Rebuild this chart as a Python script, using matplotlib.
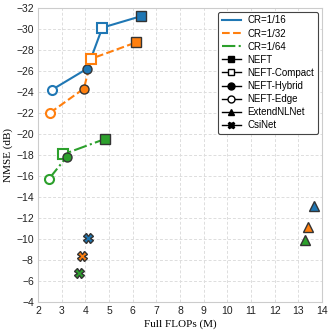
import matplotlib
matplotlib.use("Agg")
import matplotlib.pyplot as plt
from matplotlib.lines import Line2D

plt.rcParams['font.family'] = ['Liberation Sans', 'DejaVu Sans']

# Data (FLOPs in M, NMSE in dB); order: Edge, Hybrid, Compact, NEFT
cr_labels = ['CR=1/16', 'CR=1/32', 'CR=1/64']
colors = ['#1f77b4', '#ff7f0e', '#2ca02c']
linestyles = ['-', '--', '-.']

edge_x = [2.60, 2.51, 2.46]
edge_y = [-24.2, -22.0, -15.7]
hybrid_x = [4.08, 3.94, 3.21]
hybrid_y = [-26.2, -24.3, -17.8]
compact_x = [4.72, 4.26, 3.07]
compact_y = [-30.1, -27.15, -18.05]
neft_x = [6.37, 6.15, 4.82]
neft_y = [-31.2, -28.7, -19.5]
extend_x = [13.66, 13.41, 13.27]
extend_y = [-13.1, -11.1, -9.9]
csinet_x = [4.12, 3.87, 3.73]
csinet_y = [-10.05, -8.4, -6.75]

fig = plt.figure(figsize=(3.33, 3.33), dpi=100)
ax = fig.add_axes([0.114, 0.093, 0.853, 0.884])

ms = 6.5
ec = '#333333'
for i in range(3):
    c = colors[i]
    lx = [edge_x[i], hybrid_x[i], compact_x[i], neft_x[i]]
    ly = [edge_y[i], hybrid_y[i], compact_y[i], neft_y[i]]
    ax.plot(lx, ly, color=c, linestyle=linestyles[i], lw=1.5, zorder=2)
for i in range(3):
    c = colors[i]
    ax.plot(neft_x[i], neft_y[i], 's', ms=ms, mfc=c, mec=ec, mew=1.0, zorder=3)
    ax.plot(compact_x[i], compact_y[i], 's', ms=ms, mfc='white', mec=c, mew=1.5, zorder=3)
    ax.plot(hybrid_x[i], hybrid_y[i], 'o', ms=ms, mfc=c, mec=ec, mew=1.0, zorder=3)
    ax.plot(edge_x[i], edge_y[i], 'o', ms=ms, mfc='white', mec=c, mew=1.5, zorder=3)
    ax.plot(extend_x[i], extend_y[i], '^', ms=ms + 0.5, mfc=c, mec=ec, mew=1.0, zorder=3)
    ax.plot(csinet_x[i], csinet_y[i], 'X', ms=ms + 0.5, mfc=c, mec=ec, mew=1.0, zorder=3)

ax.set_xlim(2, 14)
ax.set_ylim(-4, -32)
ax.set_xticks(range(2, 15))
ax.set_yticks(range(-32, -3, 2))
ax.grid(True, linestyle=(0, (3, 2)), color='#dddddd', lw=0.7)
ax.tick_params(length=0, labelsize=7.5, pad=3, colors='#222222')
for s in ax.spines.values():
    s.set_color('#cccccc')
    s.set_linewidth(0.8)

ax.set_xlabel('Full FLOPs (M)', family=['Liberation Serif'], fontsize=8, labelpad=2)
ax.set_ylabel('NMSE (dB)', family=['Liberation Serif'], fontsize=8, labelpad=2)

handles = [Line2D([], [], color=colors[i], ls=linestyles[i], lw=1.5) for i in range(3)]
handles += [
    Line2D([], [], color='black', marker='s', mfc='black', mec='black', ms=5, lw=1),
    Line2D([], [], color='black', marker='s', mfc='white', mec='black', ms=5, lw=1),
    Line2D([], [], color='black', marker='o', mfc='black', mec='black', ms=5, lw=1),
    Line2D([], [], color='black', marker='o', mfc='white', mec='black', ms=5, lw=1),
    Line2D([], [], color='black', marker='^', mfc='black', mec='black', ms=5, lw=1),
    Line2D([], [], color='black', marker='X', mfc='black', mec='black', ms=5, lw=1),
]
labels = cr_labels + ['NEFT', 'NEFT-Compact', 'NEFT-Hybrid', 'NEFT-Edge', 'ExtendNLNet', 'CsiNet']
leg = ax.legend(handles, labels, loc='upper right', fontsize=7, frameon=True,
                edgecolor='#444444', fancybox=True, framealpha=1,
                handlelength=1.95, handletextpad=0.7, labelspacing=0.32,
                borderpad=0.35, borderaxespad=0.45,
                bbox_to_anchor=(1.0, 1.0))
leg.get_frame().set_linewidth(0.8)

fig.savefig('out.png', dpi=100)
